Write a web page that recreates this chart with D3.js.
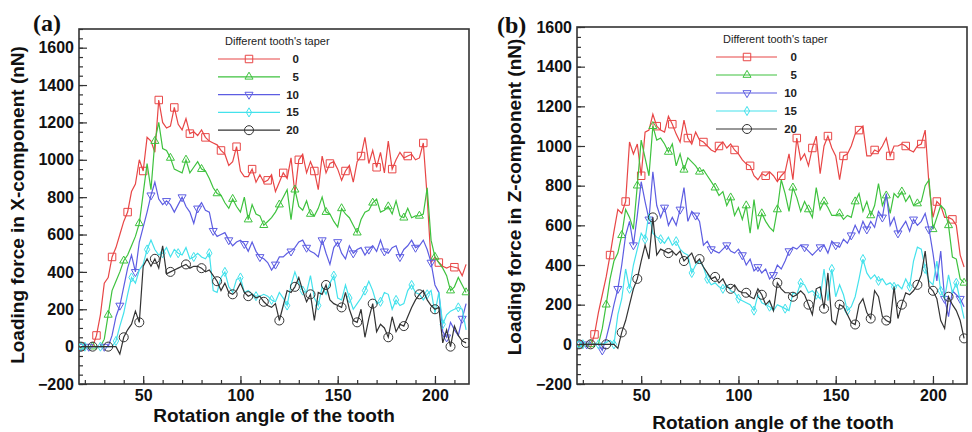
<!DOCTYPE html>
<html>
<head>
<meta charset="utf-8">
<script src="https://cdn.jsdelivr.net/npm/d3@7"></script>
<style>
  body { margin: 0; background: #fff; }
  svg { display: block; }
</style>
</head>
<body>
<script>
// rotation angle of the tooth (sample positions, shared by every series)
var angles = [18, 20, 22, 24, 26, 28, 30, 32, 34, 36,
  38, 40, 42, 44, 46, 48, 50, 52, 54, 56,
  58, 60, 62, 64, 66, 68, 70, 72, 74, 76,
  78, 80, 82, 84, 86, 88, 90, 92, 94, 96,
  98, 100, 102, 104, 106, 108, 110, 112, 114, 116,
  118, 120, 122, 124, 126, 128, 130, 132, 134, 136,
  138, 140, 142, 144, 146, 148, 150, 152, 154, 156,
  158, 160, 162, 164, 166, 168, 170, 172, 174, 176,
  178, 180, 182, 184, 186, 188, 190, 192, 194, 196,
  198, 200, 202, 204, 206, 208, 210, 212, 214, 216];

var tapers = ['0', '5', '10', '15', '20'];
var xTicks = [50, 100, 150, 200];
var yTicks = [-200, 0, 200, 400, 600, 800, 1000, 1200, 1400, 1600];

// (a) loading force, X-component (nN)
var xTaper0 = [0, 0, 0, 0, 60, 170, 340, 370, 480, 530,
  600, 670, 720, 830, 870, 1000, 940, 1120, 1100, 1040,
  1320, 1200, 1170, 1180, 1280, 1190, 1160, 1220, 1140, 1150,
  1130, 1160, 1120, 1100, 1090, 1080, 1050, 1030, 970, 990,
  1070, 940, 910, 910, 950, 880, 920, 880, 890, 920,
  830, 880, 930, 900, 1010, 820, 1000, 1030, 930, 990,
  940, 840, 1020, 930, 980, 990, 950, 890, 940, 970,
  880, 990, 1020, 1120, 980, 1050, 960, 1040, 930, 1100,
  950, 1000, 1040, 1010, 1020, 1030, 1000, 1010, 1090, 800,
  450, 480, 450, 430, 420, 430, 425, 420, 380, 440];
var xTaper5 = [0, 0, 0, 0, 0, 0, 40, 170, 300, 350,
  400, 460, 490, 540, 590, 660, 820, 980, 840, 1100,
  1200, 1060, 1050, 1010, 950, 940, 930, 1000, 930, 960,
  990, 950, 940, 900, 850, 820, 810, 770, 740, 790,
  750, 720, 800, 680, 760, 710, 700, 650, 670, 690,
  720, 760, 800, 840, 680, 840, 750, 730, 780, 710,
  700, 740, 800, 720, 710, 670, 640, 740, 710, 690,
  650, 610, 680, 720, 730, 770, 790, 720, 730, 750,
  710, 780, 700, 690, 740, 690, 700, 700, 710, 850,
  570, 480, 450, 420, 380, 300, 320, 370, 330, 290];
var xTaper10 = [0, 0, 0, 0, 0, 0, 0, 0, 60, 160,
  220, 320, 420, 490, 400, 560, 640, 720, 810, 880,
  790, 760, 780, 760, 720, 760, 800, 750, 720, 660,
  740, 770, 730, 720, 620, 590, 600, 610, 570, 540,
  560, 570, 550, 510, 560, 510, 480, 470, 450, 410,
  440, 480, 480, 500, 510, 530, 560, 570, 530, 510,
  500, 480, 570, 500, 440, 530, 560, 500, 470, 540,
  500, 520, 530, 490, 520, 540, 510, 570, 510, 500,
  530, 540, 480, 520, 540, 570, 530, 540, 570, 520,
  450, 330, 290, 80, 50, 130, 90, 60, 150, 230];
var xTaper15 = [0, 0, 0, 0, 0, 0, 0, 0, 0, 30,
  110, 180, 280, 370, 340, 410, 440, 520, 570, 520,
  490, 500, 530, 480, 520, 500, 490, 530, 470, 480,
  500, 480, 470, 500, 300, 290, 370, 400, 320, 290,
  360, 370, 290, 300, 280, 270, 270, 280, 270, 250,
  240, 290, 260, 220, 330, 400, 340, 300, 290, 380,
  260, 220, 320, 280, 340, 380, 260, 250, 330, 260,
  200, 230, 260, 300, 350, 300, 230, 240, 290, 280,
  200, 250, 220, 230, 300, 330, 290, 280, 250, 280,
  300, 180, 290, 120, 170, 190, 200, 210, 200, 90];
var xTaper20 = [0, 0, 0, 0, 0, 0, 0, 0, 0, 0,
  -40, 50, 90, 120, 190, 130, 430, 470, 430, 470,
  420, 540, 390, 400, 410, 420, 430, 440, 420, 430,
  430, 420, 400, 410, 380, 350, 300, 340, 290, 280,
  300, 340, 290, 270, 280, 260, 270, 240, 220, 210,
  230, 140, 220, 300, 290, 320, 370, 300, 240, 280,
  140, 290, 280, 330, 250, 230, 220, 210, 290, 200,
  140, 130, 200, 50, 150, 230, 80, 120, 100, 50,
  160, 80, 120, 110, 160, 210, 250, 280, 300, 250,
  220, 200, 210, 20, 90, 0, 110, 60, 30, 20];

// (b) loading force, Z-component (nN)
var zTaper0 = [0, 0, 0, -15, 50, 160, 250, 340, 450, 570,
  680, 660, 720, 1020, 960, 1010, 850, 1070, 1080, 1160,
  1100, 1080, 1070, 1150, 1110, 1060, 1020, 1130, 1040, 1010,
  1070, 1030, 1020, 1000, 980, 970, 1000, 1020, 990, 1010,
  980, 960, 930, 910, 900, 850, 830, 860, 850, 870,
  850, 820, 850, 870, 960, 830, 1040, 930, 960, 900,
  990, 1050, 860, 1000, 1050, 990, 950, 830, 950, 960,
  1000, 1060, 1080, 1100, 950, 950, 980, 970, 1000, 1040,
  950, 1000, 1000, 1010, 1000, 980, 970, 1000, 1010, 1080,
  800, 640, 720, 700, 640, 640, 630, 600, 450, 390];
var zTaper5 = [0, 0, 0, 0, 0, 0, 80, 200, 330, 420,
  460, 550, 680, 640, 580, 800, 1030, 940, 850, 1100,
  1030, 1040, 1010, 970, 1010, 900, 960, 880, 940, 920,
  900, 870, 880, 850, 820, 790, 750, 770, 700, 740,
  650, 690, 630, 700, 560, 730, 580, 660, 620, 590,
  570, 680, 830, 760, 670, 790, 740, 670, 720, 680,
  640, 790, 680, 720, 690, 650, 650, 660, 630, 650,
  640, 720, 760, 670, 720, 650, 700, 810, 700, 750,
  660, 760, 740, 770, 720, 750, 700, 710, 720, 800,
  830, 580, 640, 700, 680, 600, 440, 430, 330, 310];
var zTaper10 = [0, 0, 0, 0, 0, 0, -30, 30, 110, 200,
  280, 400, 550, 620, 500, 650, 820, 720, 630, 870,
  700, 640, 690, 600, 640, 600, 680, 790, 620, 670,
  650, 620, 500, 520, 480, 470, 460, 480, 500, 470,
  460, 480, 450, 400, 430, 370, 390, 360, 380, 330,
  350, 400, 380, 420, 470, 490, 480, 500, 490, 470,
  450, 470, 490, 500, 460, 520, 500, 490, 530, 510,
  550, 600, 560, 620, 580, 620, 590, 670, 640, 760,
  600, 640, 560, 590, 620, 570, 630, 600, 620, 660,
  580, 460, 320, 470, 230, 140, 270, 250, 230, 190];
var zTaper15 = [0, 0, 0, 0, 0, 0, 0, 10, 20, 0,
  150, 230, 380, 280, 400, 480, 560, 530, 660, 560,
  540, 530, 510, 540, 500, 520, 480, 460, 450, 360,
  400, 420, 390, 330, 300, 310, 290, 280, 300, 270,
  260, 230, 220, 210, 200, 170, 250, 210, 200, 190,
  170, 200, 190, 180, 170, 260, 250, 310, 300, 260,
  270, 250, 230, 380, 220, 380, 240, 300, 250, 170,
  190, 240, 330, 430, 360, 330, 350, 320, 330, 300,
  310, 290, 300, 280, 330, 290, 420, 490, 480, 380,
  320, 300, 420, 270, 230, 350, 260, 310, 220, 130];
var zTaper20 = [0, 0, 0, 0, 0, 0, 0, 0, 0, 0,
  -20, 60, 120, 200, 280, 330, 420, 500, 430, 640,
  450, 480, 470, 460, 470, 450, 470, 420, 440, 460,
  410, 430, 390, 360, 330, 340, 310, 330, 290, 280,
  300, 270, 260, 260, 240, 230, 280, 250, 200, 220,
  170, 310, 280, 260, 260, 240, 250, 270, 250, 200,
  150, 280, 290, 180, 360, 120, 100, 200, 190, 150,
  110, 100, 200, 230, 160, 130, 270, 240, 140, 120,
  110, 290, 130, 200, 260, 250, 270, 300, 350, 470,
  290, 270, 230, 120, 80, 240, 200, 170, 120, 30];

var colors = ['#e84646', '#3ec23e', '#5d5de2', '#44e2ec', '#333333'];
var markerSymbols = [d3.symbolSquare, d3.symbolTriangle, d3.symbolTriangle, d3.symbolDiamond, d3.symbolCircle];
var markerSizes = [56, 28, 28, 24, 64];
var markerRotate = [0, 0, 180, 0, 0];
var markerOffset = [0, 1, 2, 3, 1];

var svg = d3.select('body').append('svg')
  .attr('width', 972)
  .attr('height', 432)
  .style('font-family', '"Liberation Sans", Arial, sans-serif');

var panels = [
  { key: 'a', tag: '(a)', tagX: 33, tagY: 31,
    left: 79, right: 469, top: 29, bottom: 384, yMax: 1700,
    series: [xTaper0, xTaper5, xTaper10, xTaper15, xTaper20],
    yTitle: 'Loading force in X-component (nN)', yTitleX: 24, yTitleY: 205,
    xTitleX: 274, xTitleY: 422,
    legTitleX: 225, legTitleY: 45, legX1: 218, legX2: 280, legMark: 249,
    legY: 59, legDy: 17.8, legLabelX: 299 },
  { key: 'b', tag: '(b)', tagX: 497, tagY: 33,
    left: 577, right: 967, top: 27, bottom: 384, yMax: 1600,
    series: [zTaper0, zTaper5, zTaper10, zTaper15, zTaper20],
    yTitle: 'Loading force in Z-component (nN)', yTitleX: 521, yTitleY: 197,
    xTitleX: 773, xTitleY: 429,
    legTitleX: 723, legTitleY: 43, legX1: 716, legX2: 777, legMark: 747,
    legY: 57, legDy: 18, legLabelX: 797 }
];

var marker = function(k) {
  return d3.symbol().type(markerSymbols[k]).size(markerSizes[k]);
};

var drawPanel = function(p) {
  var x = d3.scaleLinear().domain([17, 217.5]).range([p.left, p.right]);
  var y = d3.scaleLinear().domain([-200, p.yMax]).range([p.bottom, p.top]);
  var g = svg.append('g');

  svg.append('clipPath').attr('id', 'clip-' + p.key)
    .append('rect')
    .attr('x', p.left).attr('y', p.top)
    .attr('width', p.right - p.left).attr('height', p.bottom - p.top);

  // ticks point into the plot
  var yMinor = g.append('g').attr('transform', 'translate(' + p.left + ',0)')
    .call(d3.axisLeft(y).tickValues(d3.range(-200, p.yMax + 1, 50)).tickSize(-4).tickFormat(''));
  var xMinor = g.append('g').attr('transform', 'translate(0,' + p.bottom + ')')
    .call(d3.axisBottom(x).tickValues(d3.range(20, 217, 10)).tickSize(-4).tickFormat(''));
  var yMajor = g.append('g').attr('transform', 'translate(' + p.left + ',0)')
    .call(d3.axisLeft(y).tickValues(yTicks).tickSize(-8).tickPadding(5).tickFormat(d3.format('d')));
  var xMajor = g.append('g').attr('transform', 'translate(0,' + p.bottom + ')')
    .call(d3.axisBottom(x).tickValues(xTicks).tickSize(-8).tickPadding(6).tickFormat(d3.format('d')));

  [yMinor, xMinor, yMajor, xMajor].forEach(function(a) {
    a.select('.domain').remove();
    a.selectAll('line').attr('stroke', '#333').attr('stroke-width', 1.2);
    a.selectAll('text').attr('fill', '#111')
      .style('font-size', '16px').style('font-weight', 'bold')
      .style('font-family', '"Liberation Sans", Arial, sans-serif');
  });

  g.append('rect')
    .attr('x', p.left).attr('y', p.top)
    .attr('width', p.right - p.left).attr('height', p.bottom - p.top)
    .attr('fill', 'none').attr('stroke', '#333').attr('stroke-width', 1.6);

  var plot = g.append('g').attr('clip-path', 'url(#clip-' + p.key + ')');
  var line = d3.line()
    .x(function(d, i) { return x(angles[i]); })
    .y(function(d) { return y(d); });

  p.series.forEach(function(s, k) {
    plot.append('path')
      .datum(s)
      .attr('d', line)
      .attr('fill', 'none')
      .attr('stroke', colors[k])
      .attr('stroke-width', 1.2);

    var pts = s.map(function(v, j) { return { a: angles[j], v: v, j: j }; })
      .filter(function(d) { return d.j === 0 || (d.j + markerOffset[k]) % 4 === 0; });

    plot.selectAll(null).data(pts).enter().append('path')
      .attr('d', marker(k))
      .attr('transform', function(d) {
        return 'translate(' + x(d.a) + ',' + y(d.v) + ') rotate(' + markerRotate[k] + ')';
      })
      .attr('fill', 'none')
      .attr('stroke', colors[k])
      .attr('stroke-width', 1);
  });

  // legend
  var leg = svg.append('g');
  leg.append('text')
    .attr('x', p.legTitleX).attr('y', p.legTitleY)
    .style('font-size', '11px').attr('fill', '#222')
    .text("Different tooth's taper");

  tapers.forEach(function(t, k) {
    var ly = p.legY + k * p.legDy;
    leg.append('line')
      .attr('x1', p.legX1).attr('x2', p.legX2)
      .attr('y1', ly).attr('y2', ly)
      .attr('stroke', colors[k]).attr('stroke-width', 1.2);
    leg.append('path')
      .attr('d', marker(k))
      .attr('transform', 'translate(' + p.legMark + ',' + ly + ') rotate(' + markerRotate[k] + ')')
      .attr('fill', 'none').attr('stroke', colors[k]).attr('stroke-width', 1);
    leg.append('text')
      .attr('x', p.legLabelX).attr('y', ly + 4)
      .attr('text-anchor', 'end')
      .style('font-size', '11.5px').style('font-weight', 'bold').attr('fill', '#222')
      .text(t);
  });

  // titles
  svg.append('text')
    .attr('transform', 'translate(' + p.yTitleX + ',' + p.yTitleY + ') rotate(-90)')
    .attr('text-anchor', 'middle')
    .style('font-size', '19px').style('font-weight', 'bold').attr('fill', '#111')
    .text(p.yTitle);

  svg.append('text')
    .attr('x', p.xTitleX).attr('y', p.xTitleY)
    .attr('text-anchor', 'middle')
    .style('font-size', '19px').style('font-weight', 'bold').attr('fill', '#111')
    .text('Rotation angle of the tooth');

  svg.append('text')
    .attr('x', p.tagX).attr('y', p.tagY)
    .style('font-family', '"Liberation Serif", "Times New Roman", serif')
    .style('font-size', '24px').style('font-weight', 'bold').attr('fill', '#111')
    .text(p.tag);
};

panels.forEach(drawPanel);
</script>
</body>
</html>
